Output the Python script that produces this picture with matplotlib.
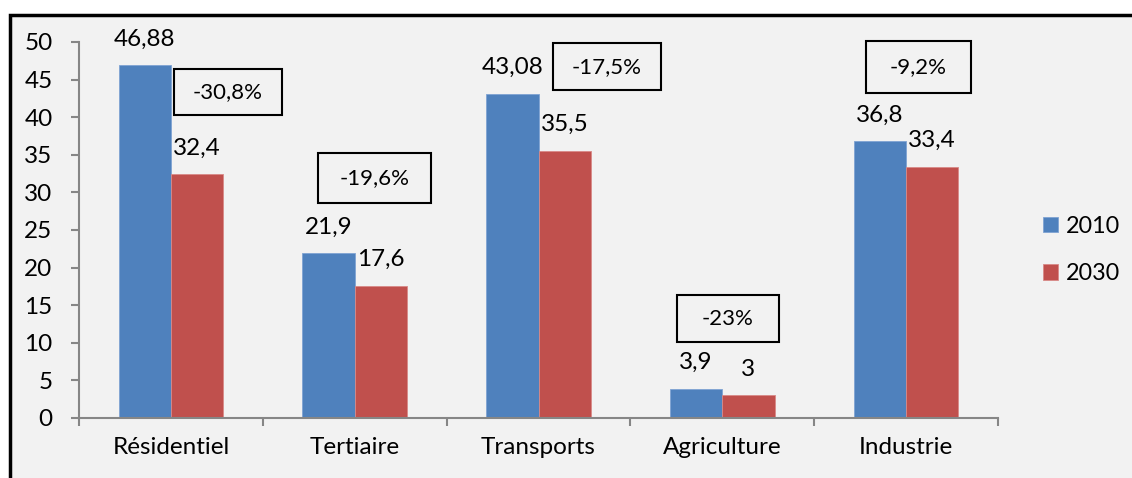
import numpy as np
import matplotlib
matplotlib.use("Agg")
import matplotlib.pyplot as plt
from matplotlib.patches import Rectangle

plt.rcParams['font.family'] = ['Lato', 'DejaVu Sans']

categories = ["Résidentiel", "Tertiaire", "Transports", "Agriculture", "Industrie"]
values_2010 = [46.88, 21.9, 43.08, 3.9, 36.8]
values_2030 = [32.4, 17.6, 35.5, 3.0, 33.4]
labels_2010 = ["46,88", "21,9", "43,08", "3,9", "36,8"]
labels_2030 = ["32,4", "17,6", "35,5", "3", "33,4"]
change_labels = ["-30,8%", "-19,6%", "-17,5%", "-23%", "-9,2%"]
series_names = ["2010", "2030"]

# text box layout (data coords: center x, center y, width, height)
box_pos = [(0.31, 43.35, 0.59, 6.1),
           (1.107, 31.9, 0.615, 6.6),
           (2.372, 46.7, 0.59, 6.25),
           (3.03, 13.2, 0.555, 6.25),
           (4.067, 46.7, 0.57, 6.9)]

blue = "#4F81BD"
red = "#C0504D"
axis_gray = "#868686"
fs = 17.5

fig = plt.figure(figsize=(11.32, 4.78), dpi=100)
fig.patch.set_facecolor("white")

# chart frame (only left and top edges visible)
frame = Rectangle((10 / 1132, -0.05), 1.2, (478 - 14.5) / 478 + 0.05,
                  transform=fig.transFigure, facecolor="#F2F2F2",
                  edgecolor="black", lw=2.5, zorder=-10)
fig.patches.append(frame)

ax = fig.add_axes([79 / 1132, 60 / 478, (998 - 79) / 1132, (418 - 42) / 478])
ax.set_facecolor("none")

x = np.arange(len(categories))
w = 0.285
b1 = ax.bar(x - w / 2, values_2010, w, color=blue, edgecolor="#7FA3D3", lw=0.6, label=series_names[0])
b2 = ax.bar(x + w / 2, values_2030, w, color=red, edgecolor="#D88A88", lw=0.6, label=series_names[1])

for xi, v, t in zip(x - w / 2, values_2010, labels_2010):
    ax.annotate(t, (xi, v), xytext=(0, 19), textcoords="offset points",
                ha="center", va="center", fontsize=fs)
for xi, v, t in zip(x + w / 2, values_2030, labels_2030):
    ax.annotate(t, (xi, v), xytext=(0, 19), textcoords="offset points",
                ha="center", va="center", fontsize=fs)

for (cx, cy, bw, bh), t in zip(box_pos, change_labels):
    ax.add_patch(Rectangle((cx - bw / 2, cy - bh / 2), bw, bh, facecolor="none",
                           edgecolor="black", lw=1.5, clip_on=False, zorder=5))
    ax.text(cx, cy, t, ha="center", va="center", fontsize=16, zorder=6)

ax.set_xlim(-0.5, len(categories) - 0.5)
ax.set_ylim(0, 50)
ax.set_yticks(np.arange(0, 51, 5))
ax.set_xticks(x)
ax.set_xticklabels(categories)
ax.set_xticks(np.arange(-0.5, len(categories), 1), minor=True)

for s in ["top", "right"]:
    ax.spines[s].set_visible(False)
for s in ["left", "bottom"]:
    ax.spines[s].set_color(axis_gray)
    ax.spines[s].set_linewidth(1.5)

ax.tick_params(axis="y", direction="out", length=6, width=1.5, color=axis_gray,
               labelsize=fs, pad=13)
ax.tick_params(axis="x", which="major", length=0, labelsize=fs, pad=14)
ax.tick_params(axis="x", which="minor", direction="out", length=6, width=1.5, color=axis_gray)

fig.legend(handles=[b1, b2], labels=series_names, loc="center left",
           bbox_to_anchor=(1031 / 1132, (478 - 250) / 478), frameon=False,
           fontsize=16.8, handlelength=0.65, handleheight=0.65, handletextpad=0.35,
           labelspacing=1.15, borderpad=0)

fig.savefig("out.png", dpi=100)
